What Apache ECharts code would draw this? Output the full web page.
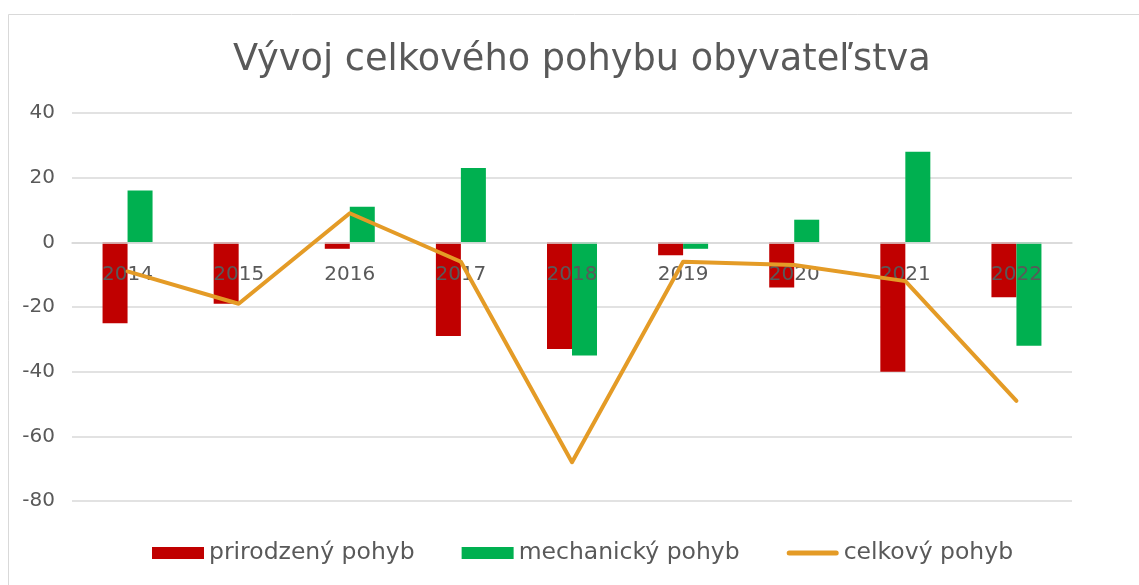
<!DOCTYPE html>
<html>
<head>
<meta charset="utf-8">
<script src="https://cdn.jsdelivr.net/npm/echarts@6/dist/echarts.min.js"></script>
<style>
  html, body { margin: 0; padding: 0; background: #fff; }
  #main { width: 1139px; height: 585px; }
</style>
</head>
<body>
<div id="main"></div>
<script>
var years = ['2014', '2015', '2016', '2017', '2018', '2019', '2020', '2021', '2022'];
var prirodzeny = [-25, -19, -2, -29, -33, -4, -14, -40, -17];
var mechanicky = [16, 0, 11, 23, -35, -2, 7, 28, -32];
var celkovy = [-9, -19, 9, -6, -68, -6, -7, -12, -49];

window.onload = function() {
  var myChart = echarts.init(document.getElementById('main'));
  var font = 'DejaVu Sans';
  var textColor = '#595959';
  var lineIcon = 'path://M2.5,0 H49.5 A2.5,2.5 0 0 1 49.5,5 H2.5 A2.5,2.5 0 0 1 2.5,0 Z';
  var gridTop = 113, gridBottom = 84, yMin = -80, yMax = 40;
  var plotH = 585 - gridTop - gridBottom;
  // posun osi x na nulovú čiaru
  var zeroOffset = -plotH * (0 - yMin) / (yMax - yMin);
  var option = {
    backgroundColor: '#fff',
    animation: false,
    title: {
      text: 'Vývoj celkového pohybu obyvateľstva',
      left: 228,
      top: 37,
      textStyle: { fontFamily: font, fontSize: 36.7, fontWeight: 'normal', color: textColor }
    },
    graphic: [{
      type: 'rect',
      z: -1,
      shape: { x: 8.5, y: 14.5, width: 1200, height: 700 },
      style: { fill: 'none', stroke: '#D9D9D9', lineWidth: 1 }
    }],
    legend: {
      bottom: 15,
      left: 147,
      itemWidth: 52,
      itemHeight: 12,
      itemGap: 47,
      textStyle: { fontFamily: font, fontSize: 23.5, color: textColor },
      data: [
        { name: 'prirodzený pohyb', icon: 'rect' },
        { name: 'mechanický pohyb', icon: 'rect' },
        { name: 'celkový pohyb', icon: lineIcon }
      ]
    },
    grid: { left: 72, right: 67, top: gridTop, bottom: gridBottom },
    xAxis: {
      type: 'category',
      data: years,
      position: 'bottom',
      offset: zeroOffset,
      z: 3,
      axisLine: { show: true, onZero: false, lineStyle: { color: '#D9D9D9', width: 1.5 } },
      axisTick: { show: false },
      axisLabel: { margin: 22, fontFamily: font, fontSize: 20, color: textColor }
    },
    yAxis: {
      type: 'value',
      min: yMin,
      max: yMax,
      interval: 20,
      axisLine: { show: false },
      axisTick: { show: false },
      axisLabel: { margin: 17, fontFamily: font, fontSize: 20, color: textColor },
      splitLine: { lineStyle: { color: '#D9D9D9', width: 1.5 } }
    },
    series: [
      {
        name: 'prirodzený pohyb',
        type: 'bar',
        data: prirodzeny,
        barWidth: 25,
        barGap: '0%',
        itemStyle: { color: '#C00000' }
      },
      {
        name: 'mechanický pohyb',
        type: 'bar',
        data: mechanicky,
        barWidth: 25,
        itemStyle: { color: '#00B050' }
      },
      {
        name: 'celkový pohyb',
        type: 'line',
        data: celkovy,
        z: 5,
        symbol: 'none',
        itemStyle: { color: '#E49B26' },
        lineStyle: { color: '#E49B26', width: 4, cap: 'round', join: 'round' }
      }
    ]
  };
  myChart.setOption(option);
};
</script>
</body>
</html>
